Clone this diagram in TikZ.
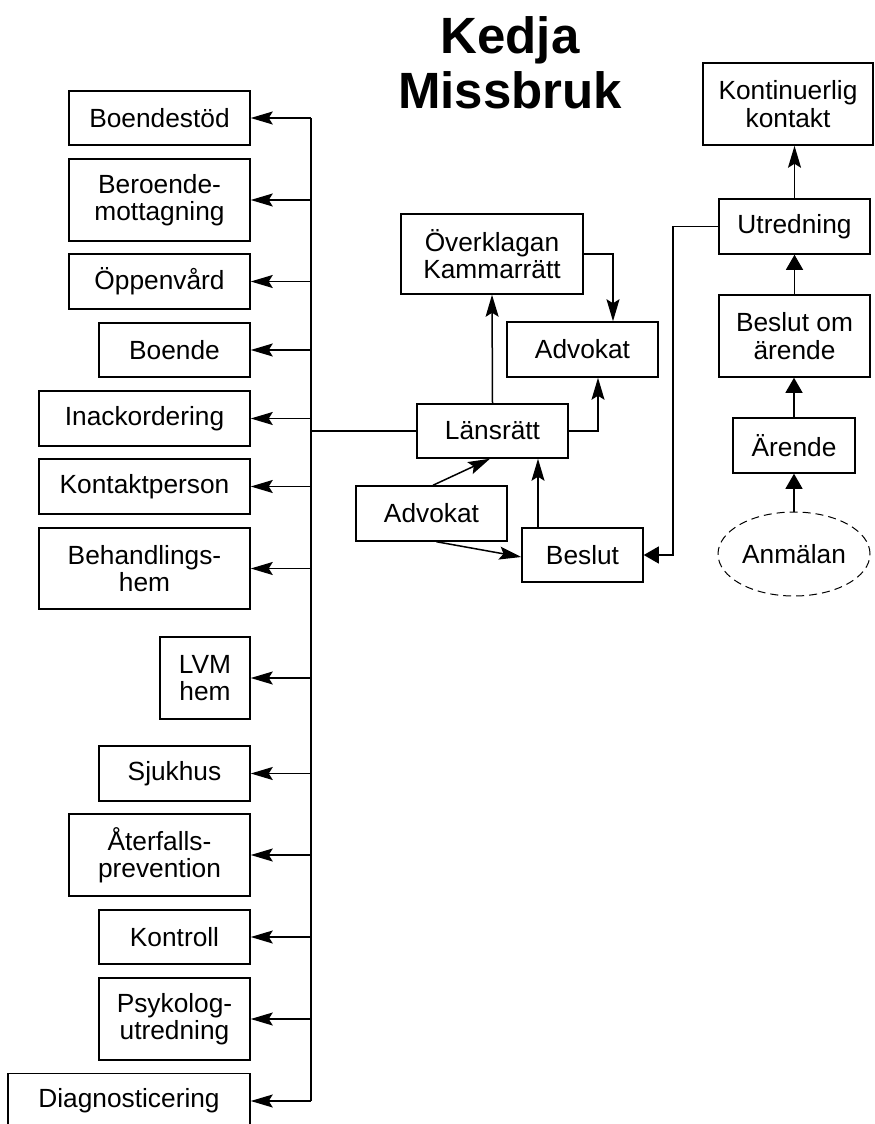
\documentclass[tikz,border=0pt]{standalone}
\usepackage{fontspec}
\setmainfont{Liberation Sans}
\usetikzlibrary{arrows.meta,shapes.geometric}

\tikzset{
  box/.style={draw, line width=1.5pt, inner sep=0pt, align=center,
              font=\fontsize{26.3}{27.5}\selectfont},
  wire/.style={line width=1.5pt},
  thinwire/.style={line width=1.1pt},
  barb/.style={-{Stealth[length=22pt,width=13pt,inset=4pt]}},
  tri/.style={-{Triangle[length=15pt,width=17pt]}},
}

\begin{document}
\begin{tikzpicture}[x=1pt,y=-1pt]
\useasboundingbox (0,0) rectangle (875,1124);

% title
\node[font=\fontsize{51}{55}\selectfont\bfseries, align=center, inner sep=0pt]
  (title) at (510,63) {Kedja\\Missbruk};

% left column of services
\node[box, minimum width=181, minimum height=54] (boendestod) at (159.5,118)   {Boendestöd};
\node[box, minimum width=181, minimum height=82] (beroende)   at (159.5,200)   {Beroende-\\mottagning};
\node[box, minimum width=181, minimum height=55] (oppenvard)  at (159.5,281.5) {Öppenvård};
\node[box, minimum width=151, minimum height=54] (boende)     at (174.5,350)   {Boende};
\node[box, minimum width=211, minimum height=55] (inack)      at (144.5,418.5) {Inackordering};
\node[box, minimum width=211, minimum height=55] (kontakt)    at (144.5,486.5) {Kontaktperson};
\node[box, minimum width=211, minimum height=81] (behand)     at (144.5,568.5) {Behandlings-\\hem};
\node[box, minimum width=90,  minimum height=82] (lvm)        at (205,678)     {LVM\\hem};
\node[box, minimum width=151, minimum height=55] (sjukhus)    at (174.5,773.5) {Sjukhus};
\node[box, minimum width=181, minimum height=82] (aterfall)   at (159.5,855)   {Återfalls-\\prevention};
\node[box, minimum width=151, minimum height=54] (kontroll)   at (174.5,937)   {Kontroll};
\node[box, minimum width=151, minimum height=82] (psykolog)   at (174.5,1019)  {Psykolog-\\utredning};
\node[box, minimum width=242, minimum height=55] (diagnos)    at (129,1101)    {Diagnosticering};

% court process
\node[box, minimum width=182, minimum height=80] (overkl)   at (492,254)     {Överklagan\\Kammarrätt};
\node[box, minimum width=151, minimum height=55] (advokat1) at (582.5,349.5) {Advokat};
\node[box, minimum width=151, minimum height=54] (lansratt) at (492.5,431)   {Länsrätt};
\node[box, minimum width=151, minimum height=55] (advokat2) at (431.5,513.5) {Advokat};
\node[box, minimum width=121, minimum height=54] (beslut)   at (582.5,555)   {Beslut};

% case handling
\node[box, minimum width=170, minimum height=82] (kontin)    at (788,104)     {Kontinuerlig\\kontakt};
\node[box, minimum width=151, minimum height=55] (utredning) at (794.5,226.5) {Utredning};
\node[box, minimum width=151, minimum height=82] (beslutom)  at (794.5,336)   {Beslut om\\ärende};
\node[box, minimum width=122, minimum height=55] (arende)    at (794,445.5)   {Ärende};
\node[ellipse, draw, line width=1pt, dash pattern=on 8pt off 5pt,
      minimum width=152, minimum height=84, inner sep=0pt,
      font=\fontsize{26.3}{27.5}\selectfont] (anmalan) at (794,554) {Anmälan};

% routing columns
\coordinate (spine) at (311,0);
\coordinate (bend)  at (673,0);

% distribution spine
\draw[wire] (boendestod.east -| spine) -- (diagnos.east -| spine);
\foreach \n in {boendestod,beroende,oppenvard,boende,inack,kontakt,behand,lvm,
                sjukhus,aterfall,kontroll,psykolog,diagnos}
  \draw[wire,barb] (\n.east -| spine) -- (\n.east);
\draw[wire] (lansratt.west -| spine) -- (lansratt.west);

% court connectors
\draw[wire,barb] (lansratt.north) -- (overkl.south);
\draw[wire,barb] (overkl.east) -| ([xshift=30.5pt]advokat1.north);
\draw[wire,barb] (lansratt.east) -| ([xshift=15.5pt]advokat1.south);
\draw[wire,barb] ([xshift=1.5pt]advokat2.north) -- ([xshift=-2.5pt]lansratt.south);
\draw[wire,barb] ([xshift=5pt]advokat2.south) -- ([yshift=-2pt]beslut.west);
\draw[wire,barb]
  ([xshift=-44.5pt]beslut.north) -- ([xshift=-44.5pt]beslut.north |- lansratt.south);

% case handling connectors
\draw[thinwire,tri] (anmalan.north) -- (arende.south);
\draw[thinwire,tri] (arende.north) -- ([xshift=-0.5pt]beslutom.south);
\draw[thinwire,tri] (beslutom.north) -- (utredning.south);
\draw[wire,barb] (utredning.north) -- (utredning.north |- kontin.south);
\draw[thinwire,tri] (utredning.west) -- (utredning.west -| bend)
  -- (beslut.east -| bend) -- (beslut.east);
\end{tikzpicture}
\end{document}
